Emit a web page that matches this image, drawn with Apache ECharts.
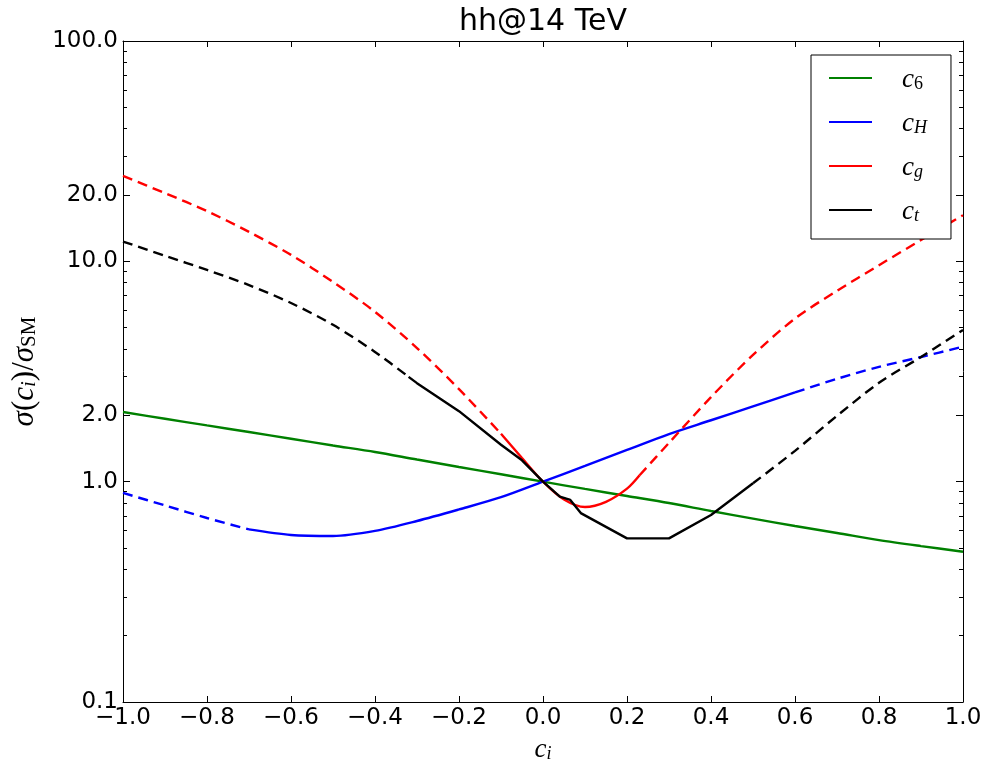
<!DOCTYPE html>
<html>
<head>
<meta charset="utf-8">
<script src="https://cdn.jsdelivr.net/npm/echarts@6/dist/echarts.min.js"></script>
<style>html,body{margin:0;padding:0;background:#fff}#chart{width:986px;height:766px}</style>
</head>
<body>
<div id="chart"></div>
<script>
// ---- data ----
const xC6 = [-1.0,-0.9,-0.8,-0.7,-0.6,-0.5,-0.4,-0.3,-0.2,-0.1,0.0,0.1,0.2,0.3,0.4,0.5,0.6,0.7,0.8,0.9,1.0];
const yC6 = [2.07,1.93,1.80,1.68,1.566,1.46,1.364,1.26,1.166,1.08,1.0,0.927,0.861,0.80,0.736,0.68,0.629,0.585,0.543,0.51,0.481];

const xCH = [-1.0,-0.9,-0.8,-0.7,-0.6,-0.5,-0.4,-0.3,-0.2,-0.1,0.0,0.1,0.2,0.3,0.4,0.5,0.6,0.7,0.8,0.9,1.0];
const yCH = [0.889,0.78,0.684,0.607,0.573,0.567,0.598,0.663,0.748,0.85,1.0,1.178,1.393,1.645,1.90,2.197,2.54,2.93,3.32,3.68,4.10];

const xCG = [-1.0,-0.9,-0.8,-0.7,-0.6,-0.5,-0.4,-0.3,-0.2,-0.1,-0.05,0.0,0.05,0.1,0.15,0.2,0.23,0.3,0.4,0.5,0.6,0.7,0.8,0.9,1.0];
const yCG = [24.4,20.4,16.9,13.6,10.7,8.06,5.9,4.04,2.63,1.65,1.28,1.0,0.83,0.767,0.81,0.93,1.07,1.50,2.42,3.76,5.5,7.35,9.6,12.5,16.2];

const xCT = [-1.0,-0.9,-0.8,-0.7,-0.6,-0.5,-0.4,-0.32,-0.3,-0.2,-0.1,-0.05,0.0,0.04,0.065,0.09,0.2,0.3,0.4,0.5,0.6,0.7,0.8,0.9,1.0];
const yCT = [12.3,10.6,9.14,7.8,6.47,5.15,3.88,2.99,2.8,2.09,1.47,1.25,1.0,0.855,0.826,0.72,0.553,0.553,0.706,0.983,1.38,1.99,2.81,3.68,4.88];

// solid (valid) ranges of each curve; outside them the curve is dashed
const rangeC6 = [-1.0, 1.0];
const rangeCH = [-0.7, 0.6];
const rangeCG = [-0.1, 0.23];
const rangeCT = [-0.32, 0.5];

const seriesNames = ['c6', 'cH', 'cg', 'ct'];
const xTicks = [-1.0, -0.8, -0.6, -0.4, -0.2, 0.0, 0.2, 0.4, 0.6, 0.8, 1.0];
const yLabelValues = [0.1, 1, 2, 10, 20, 100];
const yMinorTicks = [0.2,0.3,0.4,0.5,0.6,0.7,0.8,0.9,2,3,4,5,6,7,8,9,20,30,40,50,60,70,80,90];

// ---- chart ----
const colors = {c6: '#008000', cH: '#0000ff', cg: '#ff0000', ct: '#000000'};
const solidSmooth = {c6: 0.3, cH: 0.3, cg: 0.3, ct: 0};
const DASH = [10, 6];

function buildSeries(name, xs, ys, range) {
  const pts = xs.map((x, i) => [x, ys[i]]);
  const lo = range[0], hi = range[1];
  const parts = [
    {pts: pts.filter(p => p[0] >= lo && p[0] <= hi), dash: false},
    {pts: pts.filter(p => p[0] <= lo), dash: true},
    {pts: pts.filter(p => p[0] >= hi), dash: true}
  ];
  return parts.filter(p => p.pts.length > 1).map(p => ({
    name: name,
    type: 'line',
    data: p.pts,
    xAxisIndex: 0,
    yAxisIndex: 0,
    showSymbol: false,
    symbol: 'none',
    smooth: p.dash ? 0.3 : solidSmooth[name],
    color: colors[name],
    lineStyle: {color: colors[name], width: 2.4, type: p.dash ? DASH : 'solid', cap: 'butt'},
    emphasis: {disabled: true},
    silent: true
  }));
}

const series = [].concat(
  buildSeries('c6', xC6, yC6, rangeC6),
  buildSeries('cH', xCH, yCH, rangeCH),
  buildSeries('cg', xCG, yCG, rangeCG),
  buildSeries('ct', xCT, yCT, rangeCT)
);

const FONT = 'DejaVu Sans';
const SERIF = 'Liberation Serif';
const axisLineStyle = {color: '#000', width: 1};

function fmtX(v) {
  const s = Math.abs(v).toFixed(1);
  return (v < -1e-9 ? '\u2212' : '') + s;
}

function mathRich(size) {
  const sub = Math.round(size * 0.68);
  return {
    gap: {width: 25, fontSize: size, lineHeight: 30},
    it: {fontFamily: SERIF, fontStyle: 'italic', fontSize: size, lineHeight: 30, verticalAlign: 'bottom', color: '#000'},
    up: {fontFamily: SERIF, fontSize: size, lineHeight: 30, verticalAlign: 'bottom', color: '#000'},
    sub: {fontFamily: SERIF, fontStyle: 'italic', fontSize: sub, lineHeight: 14, verticalAlign: 'bottom', color: '#000'},
    subup: {fontFamily: SERIF, fontSize: sub, lineHeight: 14, verticalAlign: 'bottom', color: '#000'}
  };
}

const legendLabels = {
  c6: '{gap| }{it|c}{subup|6}',
  cH: '{gap| }{it|c}{sub|H}',
  cg: '{gap| }{it|c}{sub|g}',
  ct: '{gap| }{it|c}{sub|t}'
};

const yAxisBase = {
  type: 'log', logBase: 10, min: 0.1, max: 100,
  gridIndex: 0, splitLine: {show: false}, minorTick: {show: false}
};

const option = {
  animation: false,
  backgroundColor: '#fff',
  title: {
    text: 'hh@14 TeV', left: 459, top: 7, padding: 0,
    textStyle: {fontFamily: FONT, fontSize: 30, fontWeight: 'normal', color: '#000'}
  },
  grid: {left: 123, right: 23, top: 41, bottom: 64, containLabel: false, outerBoundsMode: 'none'},
  legend: {
    data: seriesNames,
    orient: 'vertical',
    left: 811, top: 55,
    padding: [8, 24, 14, 18],
    itemGap: 14,
    itemWidth: 43, itemHeight: 2,
    itemTextGap: 4,
    icon: 'rect',
    borderColor: '#000', borderWidth: 1, borderRadius: 0,
    backgroundColor: '#fff',
    selectedMode: false,
    formatter: name => legendLabels[name],
    textStyle: {rich: mathRich(27), lineHeight: 30}
  },
  xAxis: [
    {
      type: 'value', min: -1, max: 1, interval: 0.2, position: 'bottom',
      axisLine: {show: true, onZero: false, lineStyle: axisLineStyle},
      axisTick: {show: true, inside: true, length: 6, lineStyle: axisLineStyle},
      axisLabel: {show: true, margin: 5, fontFamily: FONT, fontSize: 23, color: '#000', formatter: fmtX,
                  customValues: xTicks},
      splitLine: {show: false},
      name: '{it|c}{sub|i}', nameLocation: 'middle', nameGap: 31,
      nameTextStyle: {rich: mathRich(27)}
    },
    {
      type: 'value', min: -1, max: 1, interval: 0.2, position: 'top',
      axisLine: {show: true, onZero: false, lineStyle: axisLineStyle},
      axisTick: {show: true, inside: true, length: 6, lineStyle: axisLineStyle},
      axisLabel: {show: false},
      splitLine: {show: false}
    }
  ],
  yAxis: [
    Object.assign({}, yAxisBase, {
      position: 'left',
      axisLine: {show: true, onZero: false, lineStyle: axisLineStyle},
      axisTick: {show: true, inside: true, length: 7, lineStyle: axisLineStyle, customValues: yLabelValues},
      axisLabel: {show: true, margin: 5, fontFamily: FONT, fontSize: 23, color: '#000',
                  customValues: yLabelValues, formatter: v => Number(v).toFixed(1)},
      name: '{it|\u03c3}{up|(}{it|c}{sub|i}{up|)/}{it|\u03c3}{subup|SM}',
      nameLocation: 'middle', nameGap: 83,
      nameTextStyle: {rich: mathRich(31)}
    }),
    Object.assign({}, yAxisBase, {
      position: 'left',
      axisLine: {show: false, onZero: false},
      axisTick: {show: true, inside: true, length: 4, lineStyle: axisLineStyle, customValues: yMinorTicks},
      axisLabel: {show: false}
    }),
    Object.assign({}, yAxisBase, {
      position: 'right',
      axisLine: {show: true, onZero: false, lineStyle: axisLineStyle},
      axisTick: {show: true, inside: true, length: 7, lineStyle: axisLineStyle, customValues: yLabelValues},
      axisLabel: {show: false}
    }),
    Object.assign({}, yAxisBase, {
      position: 'right',
      axisLine: {show: false, onZero: false},
      axisTick: {show: true, inside: true, length: 4, lineStyle: axisLineStyle, customValues: yMinorTicks},
      axisLabel: {show: false}
    })
  ],
  series: series
};

const chart = echarts.init(document.getElementById('chart'), null, {renderer: 'canvas'});
chart.setOption(option);
</script>
</body>
</html>
